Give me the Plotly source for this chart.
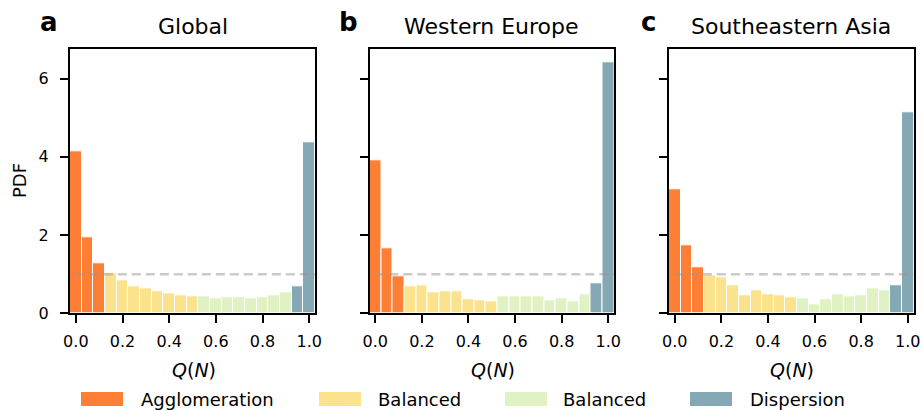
import plotly.graph_objects as go

# ---------------- data ----------------
bin_centers = [0.00, 0.05, 0.10, 0.15, 0.20, 0.25, 0.30, 0.35, 0.40, 0.45, 0.50,
               0.55, 0.60, 0.65, 0.70, 0.75, 0.80, 0.85, 0.90, 0.95, 1.00]
bin_width = 0.05

pdf_global = [4.13, 1.95, 1.29, 1.02, 0.84, 0.68, 0.63, 0.56, 0.50, 0.45, 0.43,
              0.43, 0.38, 0.40, 0.40, 0.38, 0.40, 0.45, 0.53, 0.68, 4.36]
pdf_western_europe = [3.90, 1.65, 0.94, 0.68, 0.71, 0.53, 0.56, 0.56, 0.35, 0.32, 0.30,
                      0.43, 0.43, 0.43, 0.43, 0.32, 0.38, 0.30, 0.48, 0.76, 6.43]
pdf_se_asia = [3.17, 1.75, 1.18, 0.98, 0.93, 0.72, 0.47, 0.60, 0.49, 0.47, 0.42,
               0.39, 0.24, 0.37, 0.49, 0.44, 0.47, 0.65, 0.60, 0.72, 5.15]

panel_titles = ["Global", "Western Europe", "Southeastern Asia"]
panel_letters = ["a", "b", "c"]
class_names = ["Agglomeration", "Balanced", "Balanced", "Dispersion"]
class_counts = [3, 8, 8, 2]  # number of bins per class, left to right
uniform_level = 1.0

x_ticks = [0.0, 0.2, 0.4, 0.6, 0.8, 1.0]
x_ticklabels = ["0.0", "0.2", "0.4", "0.6", "0.8", "1.0"]
y_ticks = [0, 2, 4, 6]

# ---------------- style ----------------
W, H = 924, 411
FONT = "DejaVu Sans"
class_colors = ["#fd7e35", "#fbe28c", "#e0f1c4", "#85a9b4"]

def px(x):
    return x / W

def py(y):
    return 1 - y / H

bar_colors = []
for c, n in zip(class_colors, class_counts):
    bar_colors += [c] * n

panels = [pdf_global, pdf_western_europe, pdf_se_asia]
x_domains_px = [(70, 315), (369.5, 614), (669, 913.5)]
y_domain = [py(313.3), py(49.3)]

fig = go.Figure()
annotations = []
shapes = []

for i, vals in enumerate(panels):
    xa = "x" if i == 0 else f"x{i+1}"
    ya = "y" if i == 0 else f"y{i+1}"
    fig.add_trace(go.Bar(
        x=bin_centers, y=vals, width=bin_width,
        marker=dict(color=bar_colors, line=dict(color="white", width=1)),
        xaxis=xa, yaxis=ya, showlegend=False, hoverinfo="x+y"))
    fig.add_trace(go.Scatter(
        x=[0.0, 1.025], y=[uniform_level, uniform_level], mode="lines",
        line=dict(color="rgba(150,150,150,0.5)", width=2.5, dash="9px,5px"),
        xaxis=xa, yaxis=ya, showlegend=False, hoverinfo="skip"))

    d0, d1 = x_domains_px[i]
    axis_common = dict(showline=True, linecolor="black", linewidth=2, mirror=True,
                       ticks="outside", ticklen=8, tickwidth=2, tickcolor="black",
                       showgrid=False, zeroline=False, automargin=False,
                       tickfont=dict(family=FONT, size=16, color="black"))
    fig.layout[f"xaxis{'' if i == 0 else i+1}"] = dict(
        domain=[px(d0), px(d1)], range=[-0.025, 1.025], anchor=ya,
        tickvals=x_ticks, ticktext=x_ticklabels, ticklabelstandoff=4, **axis_common)
    fig.layout[f"yaxis{'' if i == 0 else i+1}"] = dict(
        domain=y_domain, range=[0, 6.75], anchor=xa,
        tickvals=y_ticks, showticklabels=(i == 0), ticklabelstandoff=8, **axis_common)

    cx = (d0 + d1) / 2
    annotations.append(dict(text=panel_titles[i], x=px(cx), y=py(26), xref="paper", yref="paper",
                            xanchor="center", yanchor="middle", showarrow=False,
                            font=dict(family=FONT, size=22, color="black")))
    annotations.append(dict(text=f"<b>{panel_letters[i]}</b>", x=px(d0 - 21), y=py(22),
                            xref="paper", yref="paper", xanchor="center", yanchor="middle",
                            showarrow=False, font=dict(family=FONT, size=26, color="black")))
    annotations.append(dict(text="<i>Q</i>(<i>N</i>)", x=px(cx + 1), y=py(370),
                            xref="paper", yref="paper", xanchor="center", yanchor="middle",
                            showarrow=False, font=dict(family=FONT, size=19, color="black")))

annotations.append(dict(text="PDF", x=px(19), y=py(181), xref="paper", yref="paper",
                        xanchor="center", yanchor="middle", textangle=-90, showarrow=False,
                        font=dict(family=FONT, size=18, color="black")))

# custom legend (wide patches)
legend_patch_x = [81, 319, 505, 690]
legend_text_x = [139, 376, 561, 748]
for c, name, xp, xt in zip(class_colors, class_names, legend_patch_x, legend_text_x):
    shapes.append(dict(type="rect", xref="paper", yref="paper",
                       x0=px(xp), x1=px(xp + 42), y0=py(406), y1=py(392),
                       fillcolor=c, line=dict(width=0)))
    annotations.append(dict(text=name, x=px(xt), y=py(399), xref="paper", yref="paper",
                            xanchor="left", yanchor="middle", showarrow=False,
                            font=dict(family=FONT, size=18, color="black")))

fig.update_layout(width=W, height=H, margin=dict(l=0, r=0, t=0, b=0),
                  plot_bgcolor="white", paper_bgcolor="white",
                  annotations=annotations, shapes=shapes, bargap=0,
                  font=dict(family=FONT, color="black"))

fig.write_html("out.html", config={"displayModeBar": False},
               post_script="document.body.style.margin='0';")
